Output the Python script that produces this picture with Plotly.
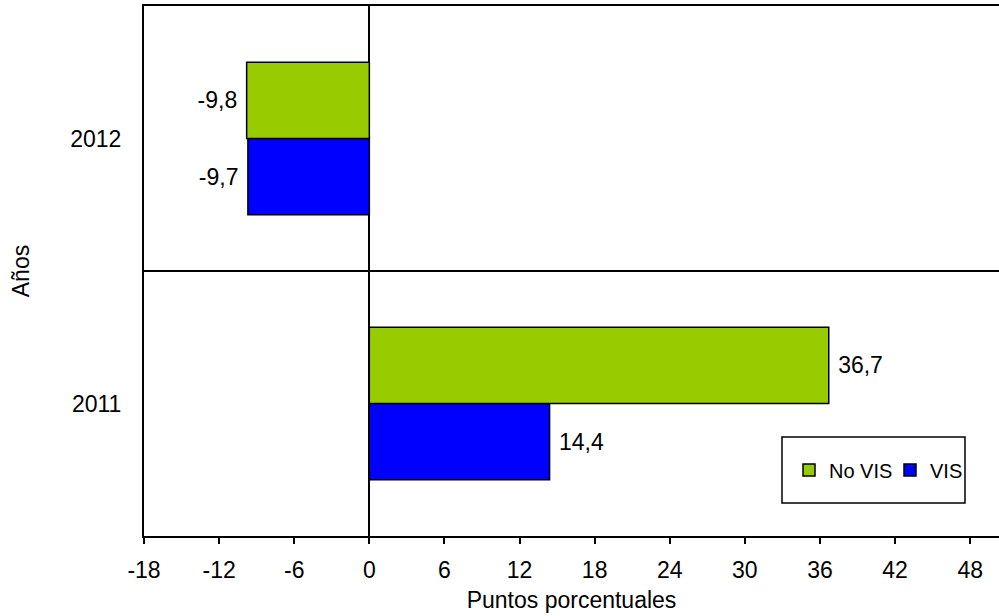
import plotly.graph_objects as go

years = ["2011", "2012"]
vis = [14.4, -9.7]
no_vis = [36.7, -9.8]
vis_name = "VIS"
no_vis_name = "No VIS"
x_ticks = [-18, -12, -6, 0, 6, 12, 18, 24, 30, 36, 42, 48]

NB = "\u00a0"

def fmt(v):
    s = f"{v:.1f}".replace(".", ",")
    return (s + NB) if v < 0 else (NB + s)

FONT = "Liberation Sans, Arial, sans-serif"

fig = go.Figure()
fig.add_trace(go.Bar(
    y=years, x=vis, orientation="h", name=vis_name,
    marker=dict(color="#0000FF", line=dict(color="black", width=1.5)),
    text=[fmt(v) for v in vis], textposition="outside",
    textfont=dict(size=23, color="black", family=FONT),
    cliponaxis=False, legendrank=2,
))
fig.add_trace(go.Bar(
    y=years, x=no_vis, orientation="h", name=no_vis_name,
    marker=dict(color="#99CC00", line=dict(color="black", width=1.5)),
    text=[fmt(v) for v in no_vis], textposition="outside",
    textfont=dict(size=23, color="black", family=FONT),
    cliponaxis=False, legendrank=1,
))

# legend frame (layout decoration)
L, R, T, B = 144, 999, 6, 536
fig.add_shape(type="rect", xref="paper", yref="paper",
              x0=(782 - L) / (R - L), x1=(965 - L) / (R - L),
              y0=(B - 503) / (B - T), y1=(B - 437) / (B - T),
              line=dict(color="black", width=1.5), fillcolor="white", layer="above")

fig.update_layout(
    width=999, height=616,
    margin=dict(l=144, r=0, t=6, b=80),
    paper_bgcolor="white", plot_bgcolor="white",
    font=dict(family=FONT, size=23, color="black"),
    barmode="group", bargap=0.425, bargroupgap=0,
    showlegend=True,
    legend=dict(
        orientation="h", x=(789 - L) / (R - L), y=(B - 470) / (B - T),
        xanchor="left", yanchor="middle",
        borderwidth=0, bgcolor="rgba(0,0,0,0)",
        font=dict(size=20), itemwidth=30,
        entrywidth=56, entrywidthmode="pixels",
    ),
    xaxis=dict(
        range=[-18, 50.3], tickvals=x_ticks, ticktext=[str(t) for t in x_ticks],
        showgrid=False, zeroline=True, zerolinecolor="black", zerolinewidth=1.5,
        showline=True, linecolor="black", linewidth=2, mirror=True,
        ticks="outside", ticklen=6, tickwidth=1.5, tickcolor="black",
        ticklabelstandoff=6, automargin=False,
        title=dict(text="Puntos porcentuales", font=dict(size=23), standoff=10),
        fixedrange=True,
    ),
    yaxis=dict(
        categoryorder="array", categoryarray=years,
        showline=True, linecolor="black", linewidth=2,
        showgrid=True, gridcolor="black", gridwidth=1.5, tickson="boundaries",
        ticks="", ticklabelstandoff=16, automargin=False,
        title=dict(text="Años", font=dict(size=23), standoff=34),
        fixedrange=True,
    ),
)

fig.write_html("out.html", config={"displayModeBar": False},
               post_script="document.body.style.margin='0';")
